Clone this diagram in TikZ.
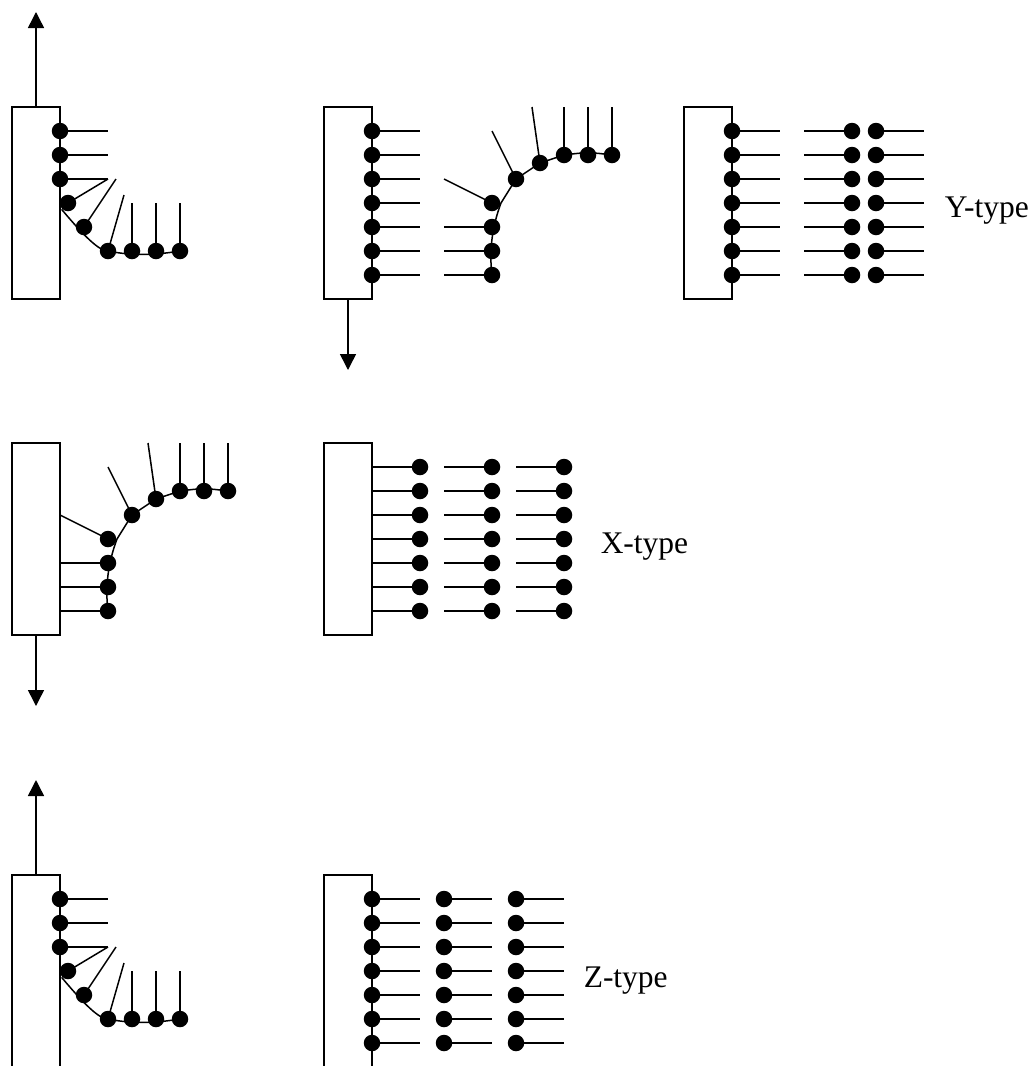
\documentclass[tikz,border=0pt]{standalone}
\usepackage{fontspec}
\setmainfont{Liberation Serif}
\usetikzlibrary{arrows.meta}
\tikzset{
  x=1pt,y=-1pt,
  every path/.style={line width=1.5pt},
  dot/.style={circle,fill=black,draw=none,inner sep=0pt,minimum size=16.5pt},
  box/.style={draw,fill=none,line width=1.5pt,minimum width=48pt,minimum height=192pt,inner sep=0pt,outer sep=0pt},
  shiftarrow/.style={-{Triangle[width=16pt,length=16pt]}},
  lab/.style={inner sep=0pt,font=\fontsize{31.5}{36}\selectfont},
}
\begin{document}
\begin{tikzpicture}
\useasboundingbox (0,0) rectangle (1035,1066);
% ---------- Row 1, panel 1
\node[box] (A) at (36,203) {};
\coordinate (Atip) at (36,12);
\draw[shiftarrow] (A.north) -- (Atip);
\foreach \n/\x/\y in {a1/60/131,a2/60/155,a3/60/179,a4/68/203,a5/84/227,a6/108/251,a7/132/251,a8/156/251,a9/180/251}{
  \node[dot] (\n) at (\x,\y) {};}
\foreach \n/\x/\y in {ae1/108/131,ae2/108/155,ae3/108/179,ae5/116/179,ae6/124/195,ae7/132/203,ae8/156/203,ae9/180/203}{
  \coordinate (\n) at (\x,\y);}
\foreach \d/\e in {a1/ae1,a2/ae2,a3/ae3,a4/ae3,a5/ae5,a6/ae6,a7/ae7,a8/ae8,a9/ae9}{\draw (\d.center) -- (\e);}
\draw (a4.south west) .. controls (a5.south) and (a6.west) .. (a6.center) .. controls ([yshift=-5pt]a7.center) and ([yshift=-4pt]a8.center) .. (a9.center);
% ---------- Row 1, panel 2
\node[box] (B) at (348,203) {};
\coordinate (Btip) at (348,370);
\draw[shiftarrow] (B.south) -- (Btip);
\foreach \i/\y in {1/131,2/155,3/179,4/203,5/227,6/251,7/275}{
  \node[dot] (b\i) at (372,\y) {};
  \coordinate (be\i) at (420,\y);
  \draw (b\i.center) -- (be\i);}
\foreach \n/\x/\y in {c1/492/275,c2/492/251,c3/492/227,c4/492/203,c5/516/179,c6/540/163,c7/564/155,c8/588/155,c9/612/155}{
  \node[dot] (\n) at (\x,\y) {};}
\foreach \n/\x/\y in {ce1/444/275,ce2/444/251,ce3/444/227,ce4/444/179,ce5/492/131,ce6/532/107,ce7/564/107,ce8/588/107,ce9/612/107}{
  \coordinate (\n) at (\x,\y);}
\foreach \i in {1,...,9}{\draw (c\i.center) -- (ce\i);}
\draw (c1.center) .. controls ([xshift=-3pt]c2.center) and (c3.center) .. (c4.east) -- (c5.center) -- (c6.center) -- (c7.center) .. controls ([yshift=3pt]c8.center) .. (c9.center);
% ---------- Row 1, panel 3
\node[box] (D) at (708,203) {};
\foreach \i/\y in {1/131,2/155,3/179,4/203,5/227,6/251,7/275}{
  \node[dot] (d\i) at (732,\y) {};
  \coordinate (de\i) at (780,\y);
  \draw (d\i.center) -- (de\i);
  \node[dot] (e\i) at (852,\y) {};
  \coordinate (ee\i) at (804,\y);
  \draw (e\i.center) -- (ee\i);
  \node[dot] (f\i) at (876,\y) {};
  \coordinate (fe\i) at (924,\y);
  \draw (f\i.center) -- (fe\i);}
\node[lab,anchor=base west] (ylab) at (944,217) {Y-type};
% ---------- Row 2, panel 1
\node[box] (G) at (36,539) {};
\coordinate (Gtip) at (36,706);
\draw[shiftarrow] (G.south) -- (Gtip);
\foreach \n/\x/\y in {g1/108/611,g2/108/587,g3/108/563,g4/108/539,g5/132/515,g6/156/499,g7/180/491,g8/204/491,g9/228/491}{
  \node[dot] (\n) at (\x,\y) {};}
\foreach \n/\x/\y in {ge1/60/611,ge2/60/587,ge3/60/563,ge4/60/515,ge5/108/467,ge6/148/443,ge7/180/443,ge8/204/443,ge9/228/443}{
  \coordinate (\n) at (\x,\y);}
\foreach \i in {1,...,9}{\draw (g\i.center) -- (ge\i);}
\draw (g1.center) .. controls ([xshift=-3pt]g2.center) and (g3.center) .. (g4.east) -- (g5.center) -- (g6.center) -- (g7.center) .. controls ([yshift=3pt]g8.center) .. (g9.center);
% ---------- Row 2, panel 2
\node[box] (H) at (348,539) {};
\foreach \i/\y in {1/467,2/491,3/515,4/539,5/563,6/587,7/611}{
  \coordinate (he\i) at (372,\y);
  \node[dot] (h\i) at (420,\y) {};
  \draw (h\i.center) -- (he\i);
  \coordinate (je\i) at (444,\y);
  \node[dot] (j\i) at (492,\y) {};
  \draw (j\i.center) -- (je\i);
  \coordinate (ke\i) at (516,\y);
  \node[dot] (k\i) at (564,\y) {};
  \draw (k\i.center) -- (ke\i);}
\node[lab,anchor=base west] (xlab) at (600,553) {X-type};
% ---------- Row 3, panel 1
\coordinate (Pbl) at (12,1066);
\coordinate (Ptl) at (12,875);
\coordinate (Ptm) at (36,875);
\coordinate (Ptr) at (60,875);
\coordinate (Pbr) at (60,1066);
\draw (Pbl) -- (Ptl) -- (Ptr) -- (Pbr);
\coordinate (Ptip) at (36,780);
\draw[shiftarrow] (Ptm) -- (Ptip);
\foreach \n/\x/\y in {p1/60/899,p2/60/923,p3/60/947,p4/68/971,p5/84/995,p6/108/1019,p7/132/1019,p8/156/1019,p9/180/1019}{
  \node[dot] (\n) at (\x,\y) {};}
\foreach \n/\x/\y in {pe1/108/899,pe2/108/923,pe3/108/947,pe5/116/947,pe6/124/963,pe7/132/971,pe8/156/971,pe9/180/971}{
  \coordinate (\n) at (\x,\y);}
\foreach \d/\e in {p1/pe1,p2/pe2,p3/pe3,p4/pe3,p5/pe5,p6/pe6,p7/pe7,p8/pe8,p9/pe9}{\draw (\d.center) -- (\e);}
\draw (p4.south west) .. controls (p5.south) and (p6.west) .. (p6.center) .. controls ([yshift=-5pt]p7.center) and ([yshift=-4pt]p8.center) .. (p9.center);
% ---------- Row 3, panel 2
\coordinate (Qbl) at (324,1066);
\coordinate (Qtl) at (324,875);
\coordinate (Qtr) at (372,875);
\coordinate (Qbr) at (372,1066);
\draw (Qbl) -- (Qtl) -- (Qtr) -- (Qbr);
\foreach \i/\y in {1/899,2/923,3/947,4/971,5/995,6/1019,7/1043}{
  \node[dot] (q\i) at (372,\y) {};
  \coordinate (qe\i) at (420,\y);
  \draw (q\i.center) -- (qe\i);
  \node[dot] (r\i) at (444,\y) {};
  \coordinate (re\i) at (492,\y);
  \draw (r\i.center) -- (re\i);
  \node[dot] (s\i) at (516,\y) {};
  \coordinate (se\i) at (564,\y);
  \draw (s\i.center) -- (se\i);}
\node[lab,anchor=base west] (zlab) at (583,987) {Z-type};
\end{tikzpicture}
\end{document}
